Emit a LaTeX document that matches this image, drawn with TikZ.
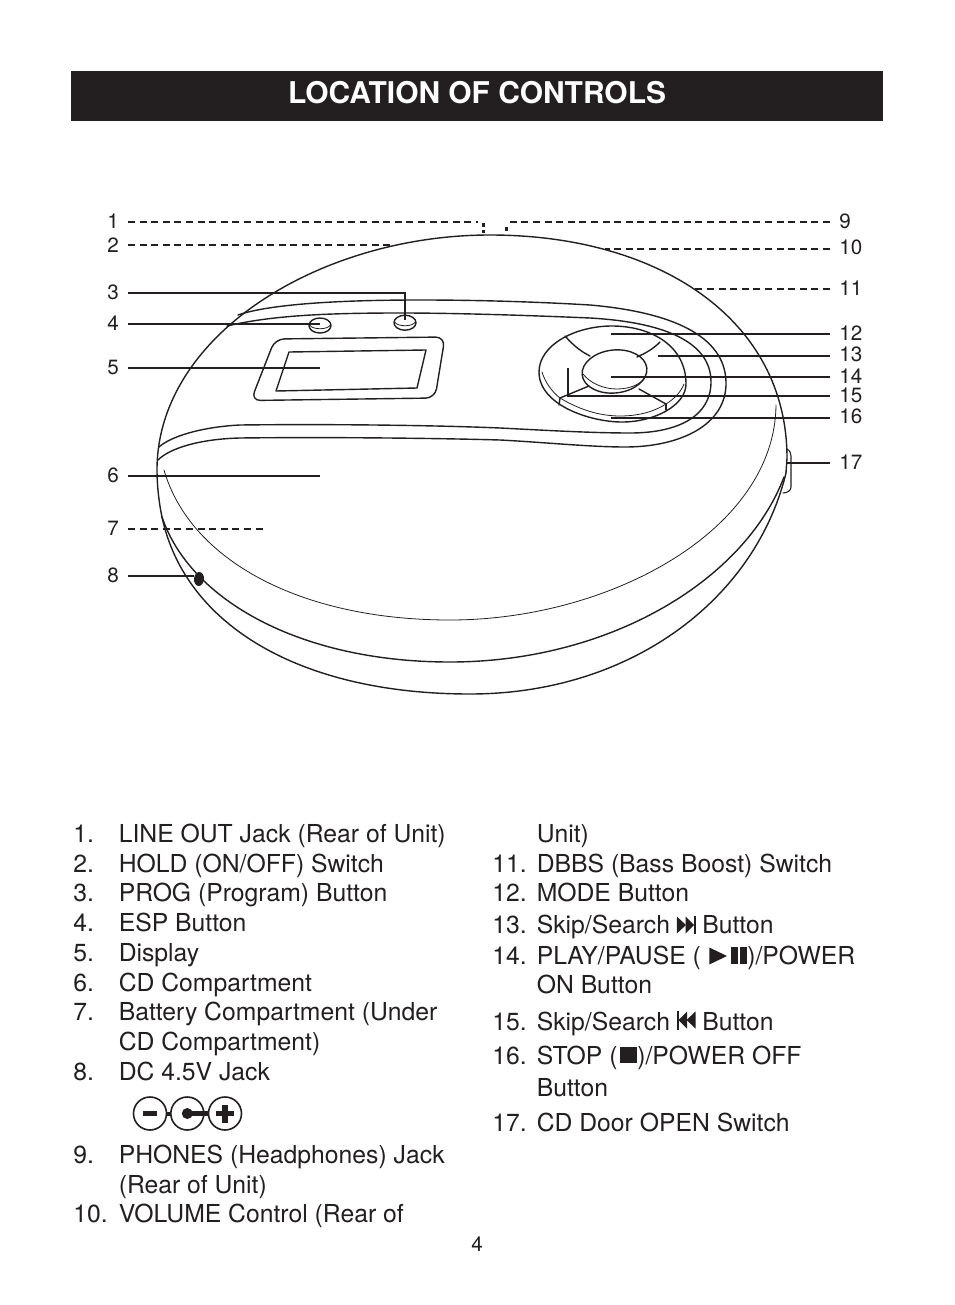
\documentclass[tikz,border=0pt]{standalone}
\usepackage{fontspec}
\usetikzlibrary{shapes.geometric}
\setmainfont{TeX Gyre Heros}
\definecolor{ink}{HTML}{231F20}
\tikzset{
  x=0.75pt,y=-0.75pt,
  outline/.style={draw=ink,line width=1.05pt,line join=round,line cap=round},
  thinline/.style={draw=ink,line width=0.6pt,line cap=round},
  leader/.style={draw=ink,line width=1.25pt},
  dashleader/.style={draw=ink,line width=1.25pt,dash pattern=on 5.2pt off 3.5pt},
  dotleader/.style={draw=ink,line width=2pt,dash pattern=on 3pt off 2.25pt},
  numlabel/.style={inner sep=0pt,text=ink,font=\fontsize{15.5}{15.5}\selectfont},
  item/.style={inner sep=0pt,anchor=base west,text=ink,font=\fontsize{18.55}{18.55}\selectfont},
  solidfill/.style={fill=ink,draw=none},
}
\newcommand{\litem}[4]{\node[item] (#1) at (#2,#3) {#4};}
\begin{document}
\begin{tikzpicture}
\useasboundingbox (0,0) rectangle (954,1305);
% header
\node[fill=ink,minimum width=609pt,minimum height=37.5pt,inner sep=0pt] (band) at (477,96) {};
\node[inner sep=0pt,text=white,font=\bfseries\fontsize{22.45}{22.45}\selectfont] (title) at (477,93) {LOCATION OF CONTROLS};
% body outline, top
\draw[outline] (162,517) .. controls (159,503) and (157,485) .. (157,470)
  .. controls (157,335) and (320,235) .. (490,235)
  .. controls (660,235) and (787,320) .. (787,458) -- (786,473);
% lid edge
\draw[outline] (162,517) .. controls (190,600) and (300,662) .. (450,662)
  .. controls (610,662) and (745,580) .. (784,477);
% base edge
\draw[outline] (162,517) .. controls (185,625) and (300,694) .. (470,694)
  .. controls (630,694) and (755,600) .. (786,473);
% thin inner edge
\draw[thinline] (164,470) .. controls (190,560) and (300,620) .. (450,620)
  .. controls (610,620) and (775,530) .. (776,405);
% band
\draw[outline] (238,315) .. controls (270,304) and (340,300) .. (420,300)
  .. controls (480,300) and (540,302) .. (590,305)
  .. controls (670,312) and (725,335) .. (726,382)
  .. controls (727,425) and (680,447) .. (625,447)
  .. controls (590,447) and (540,442) .. (500,440)
  .. controls (430,438) and (320,437) .. (240,438)
  .. controls (200,439) and (170,448) .. (158,460);
\draw[outline] (227,326) .. controls (270,316) and (320,313) .. (400,313)
  .. controls (450,313) and (520,315) .. (590,318)
  .. controls (660,322) and (711,340) .. (711,382)
  .. controls (711,415) and (680,433) .. (630,433)
  .. controls (590,433) and (540,430) .. (500,428)
  .. controls (430,425) and (320,424) .. (240,425)
  .. controls (200,427) and (170,437) .. (159,447);
% buttons
\draw[outline] (320,325.5) ellipse [x radius=11,y radius=7.5];
\draw[thinline] (309.5,325) .. controls (313,330) and (327,330) .. (330.5,325);
\draw[outline] (405,322.7) ellipse [x radius=11,y radius=7.5];
\draw[thinline] (394.5,322) .. controls (398,327) and (412,327) .. (415.5,322);
% display
\draw[outline,rounded corners=7pt] (275,339) -- (445,337) -- (435,398) -- (251,400.5) -- cycle;
\draw[outline] (289,352) -- (426,350) -- (417,388) -- (276,391) -- cycle;
% control pad
\draw[outline] (539,372) .. controls (539,345) and (575,326) .. (612,326)
  .. controls (650,326) and (686,345) .. (686,384)
  .. controls (686,405) and (655,422) .. (622,422)
  .. controls (590,422) and (539,405) .. (539,372) -- cycle;
\draw[thinline] (542,372) .. controls (545,382) and (552,392) .. (560,398)
  .. controls (580,410) and (600,416) .. (620,416)
  .. controls (640,416) and (655,411) .. (666,404)
  .. controls (674,399) and (681,392) .. (684,384);
\draw[outline] (560,398) -- (559,405);
\draw[outline] (666,404) -- (666,410);
\draw[outline,rotate around={6:(614.5,371.5)}] (614.5,371.5) ellipse [x radius=32.5,y radius=21.5];
\draw[thinline] (583,374) .. controls (590,383) and (603,389) .. (617,389)
  .. controls (630,389) and (642,384) .. (646,376);
\draw[outline] (565,336) .. controls (573,345) and (580,351) .. (590,356);
\draw[outline] (660,342) .. controls (653,349) and (646,353) .. (637,357);
\draw[outline] (560,398) -- (589,386);
\draw[outline] (666,404) -- (639,389);
% DC jack dot
\node[solidfill,ellipse,minimum width=7.5pt,minimum height=10.5pt,inner sep=0pt,rotate=-5] (jack) at (199,579) {};
% door switch
\draw[thinline,line width=0.8pt] (787,449) .. controls (790,451) and (791,453) .. (791,456) -- (791,487) .. controls (791,490) and (788,493) .. (783,493);
% leader ends
\coordinate (e1) at (128,222); \coordinate (b1) at (478,222); \coordinate (s1) at (483.5,223); \coordinate (t1) at (483.5,233);
\coordinate (e2) at (128,245); \coordinate (t2) at (392,245);
\coordinate (e3) at (128,293); \coordinate (b3) at (405,293); \coordinate (t3) at (405,320);
\coordinate (e4) at (128,324); \coordinate (t4) at (320,324);
\coordinate (e5) at (128,368); \coordinate (t5) at (320,368);
\coordinate (e6) at (128,476); \coordinate (t6) at (320,476);
\coordinate (e7) at (128,529); \coordinate (t7) at (263,529);
\coordinate (e8) at (128,576);
\coordinate (e9) at (830,222); \coordinate (b9) at (506,222); \coordinate (s9) at (506.5,227); \coordinate (t9) at (506.5,231);
\coordinate (e10) at (830,249); \coordinate (t10) at (605,249);
\coordinate (e11) at (830,289); \coordinate (t11) at (695,289);
\coordinate (e12) at (830,334); \coordinate (t12) at (611,334);
\coordinate (e13) at (830,356); \coordinate (t13) at (658,356);
\coordinate (e14) at (830,377); \coordinate (t14) at (611,377);
\coordinate (e15) at (830,396); \coordinate (b15) at (568,396); \coordinate (t15) at (568,368);
\coordinate (e16) at (830,418); \coordinate (t16) at (611,418);
\coordinate (e17) at (830,463); \coordinate (t17) at (787,463);
\draw[dashleader] (e1) -- (b1);
\draw[dotleader] (s1) -- (t1);
\draw[dashleader] (e2) -- (t2);
\draw[leader] (e3) -- (b3) -- (t3);
\draw[leader] (e4) -- (t4);
\draw[leader] (e5) -- (t5);
\draw[leader] (e6) -- (t6);
\draw[dashleader] (e7) -- (t7);
\draw[leader] (e8) -- (jack.west |- e8);
\draw[dashleader] (e9) -- (b9);
\draw[dotleader] (s9) -- (t9);
\draw[dashleader] (e10) -- (t10);
\draw[dashleader] (e11) -- (t11);
\draw[leader] (e12) -- (t12);
\draw[leader] (e13) -- (t13);
\draw[leader] (e14) -- (t14);
\draw[leader] (e15) -- (b15) -- (t15);
\draw[leader] (e16) -- (t16);
\draw[leader] (e17) -- (t17);
% number labels
\foreach \n/\x/\y in {1/113/221,2/113/245,3/113/292,4/113/323,5/113/367,6/113/475,7/113/528,8/113/575}
  \node[numlabel] (n\n) at (\x,\y) {\n};
\foreach \n/\y in {9/221,10/247,11/288,12/333,13/354,14/376,15/395,16/416,17/462}
  \node[numlabel,anchor=west] (n\n) at (839,\y) {\n};
% list, left
\litem{a1}{73}{842}{1.}\litem{at1}{118.5}{842}{LINE OUT Jack (Rear of Unit)}
\litem{a2}{73}{872}{2.}\litem{at2}{118.5}{872}{HOLD (ON/OFF) Switch}
\litem{a3}{73}{901}{3.}\litem{at3}{118.5}{901}{PROG (Program) Button}
\litem{a4}{73}{931}{4.}\litem{at4}{118.5}{931}{ESP Button}
\litem{a5}{73}{961}{5.}\litem{at5}{118.5}{961}{Display}
\litem{a6}{73}{991}{6.}\litem{at6}{118.5}{991}{CD Compartment}
\litem{a7}{73}{1020}{7.}\litem{at7}{118.5}{1020}{Battery Compartment (Under}
\litem{at7b}{118.5}{1050}{CD Compartment)}
\litem{a8}{73}{1080}{8.}\litem{at8}{118.5}{1080}{DC 4.5V Jack}
\litem{a9}{73}{1163}{9.}\litem{at9}{118.5}{1163}{PHONES (Headphones) Jack}
\litem{at9b}{118.5}{1193}{(Rear of Unit)}
\litem{a10}{73}{1222}{10.}\litem{at10}{118.5}{1222}{VOLUME Control (Rear of}
% list, right
\litem{at10b}{536.5}{842}{Unit)}
\litem{a11}{492}{872}{11.}\litem{at11}{536.5}{872}{DBBS (Bass Boost) Switch}
\litem{a12}{492}{901}{12.}\litem{at12}{536.5}{901}{MODE Button}
\litem{a13}{492}{933}{13.}\litem{at13}{536.5}{933}{Skip/Search}\litem{at13b}{702}{933}{Button}
\litem{a14}{492}{964}{14.}\litem{at14}{536.5}{964}{PLAY/PAUSE (}\litem{at14b}{747}{964}{)/POWER}
\litem{at14c}{536.5}{993}{ON Button}
\litem{a15}{492}{1030}{15.}\litem{at15}{536.5}{1030}{Skip/Search}\litem{at15b}{702}{1030}{Button}
\litem{a16}{492}{1064}{16.}\litem{at16}{536.5}{1064}{STOP (}\litem{at16b}{637}{1064}{)/POWER OFF}
\litem{at16c}{536.5}{1096}{Button}
\litem{a17}{492}{1131}{17.}\litem{at17}{536.5}{1131}{CD Door OPEN Switch}
% page number
\node[numlabel] (page) at (477,1244) {4};
% transport icons
\fill[ink] (676.8,916.5) -- (686,925) -- (676.8,933.5) -- cycle;
\fill[ink] (685.5,916.5) -- (694,925) -- (685.5,933.5) -- cycle;
\fill[ink] (694,916) rectangle (696,934);
\fill[ink] (709.3,947.5) -- (727,956) -- (709.3,964.5) -- cycle;
\fill[ink] (731,947) rectangle (737.5,964);
\fill[ink] (740.2,947) rectangle (747,964);
\fill[ink] (676.5,1010.5) rectangle (678.5,1029.5);
\fill[ink] (687,1011.5) -- (678.5,1020) -- (687,1028.5) -- cycle;
\fill[ink] (695.5,1011.5) -- (686.5,1020) -- (695.5,1028.5) -- cycle;
\fill[ink] (620,1047.3) rectangle (636.7,1063.3);
% DC polarity symbol
\draw[outline,line width=1.2pt] (150,1113.5) circle [radius=16.5];
\draw[outline,line width=1.2pt] (187.3,1113.5) circle [radius=16.5];
\draw[outline,line width=1.2pt] (225,1113.5) circle [radius=16.5];
\fill[ink] (143,1111) rectangle (157,1116.2);
\draw[ink,line width=3pt] (166.5,1113.5) -- (171,1113.5);
\fill[ink] (187.3,1113.5) circle [radius=5.5];
\draw[ink,line width=3.6pt] (187.3,1113.5) -- (209,1113.5);
\fill[ink] (216,1111) rectangle (233.5,1116);
\fill[ink] (222.3,1104.5) rectangle (227.5,1122.5);
\end{tikzpicture}
\end{document}
